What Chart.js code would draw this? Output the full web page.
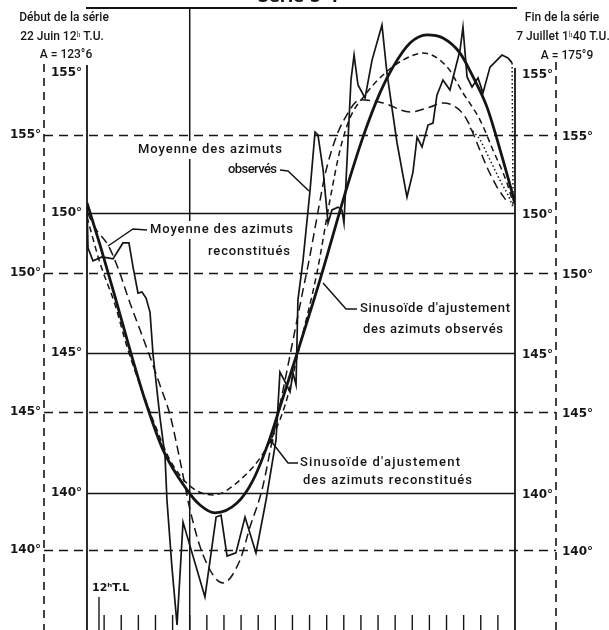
<!DOCTYPE html>
<html><head><meta charset="utf-8">
<script src="https://cdn.jsdelivr.net/npm/chart.js@4/dist/chart.umd.min.js"></script>
<style>html,body{margin:0;padding:0;background:#fff;}canvas{display:block;}</style>
</head><body>
<canvas id="c" width="609" height="630"></canvas>
<script>
// ---- DATA (x = hours, y = azimuth in degrees) ----
// Moyenne des azimuts observés (solid scale)
const obsMeanH = [11.00,11.06,11.35,11.88,12.52,13.10,13.45,13.69,13.98,14.21,14.45,14.68,14.86,15.26,15.56,15.67,15.96,16.26,16.61,17.89,18.54,18.83,19.18,19.70,20.23,20.87,21.46,22.04,22.27,22.51,22.86,23.03,23.21,23.32,23.62,24.03,24.32,24.49,24.79,25.08,25.31,25.66,25.89,26.01,26.19,26.42,26.60,26.83,27.24,27.65,28.23,28.52,29.11,29.69,30.04,30.28,30.57,30.92,31.21,31.44,31.79,32.20,32.79,32.96,33.20,33.49,33.84,34.13,34.54,35.24,35.59,35.83];
const obsMeanV = [150.36,148.75,148.29,148.43,148.36,148.93,148.93,148.07,147.14,147.18,146.96,146.46,144.93,142.71,141.29,139.75,137.36,135.29,138.96,136.29,139.14,139.21,137.75,137.86,139.14,137.86,139.75,141.89,144.32,144.04,143.61,144.29,143.86,146.89,148.32,150.82,152.89,152.79,151.54,149.64,150.11,150.21,150.11,149.64,151.89,154.75,155.64,154.57,154.11,155.46,156.71,155.00,152.50,150.57,151.46,152.71,152.36,153.14,153.21,154.21,154.75,154.39,155.82,156.64,154.86,154.50,154.82,154.29,155.21,155.64,155.54,155.36];
// end of observed series (dotted drop)
const obsEndH = [35.83,35.89];
const obsEndV = [155.36,150.21];
// Sinusoïde d'ajustement des azimuts observés (solid scale)
const obsFitH = [11.00,11.76,12.64,13.51,14.39,15.44,16.84,17.60,18.48,19.76,20.70,21.69,22.27,23.15,24.61,26.19,27.12,28.11,28.87,29.87,30.86,31.79,32.79,33.55,34.36,35.30,36.00];
const obsFitV = [150.36,148.86,147.00,145.11,143.32,141.54,140.11,139.57,139.29,139.64,140.46,141.96,143.07,144.75,147.61,150.93,152.71,154.29,155.21,156.07,156.36,156.25,155.71,154.86,153.79,151.89,150.36];
// Moyenne des azimuts reconstitués (dashed scale)
const recMeanH = [11.00,11.47,12.23,12.81,13.51,14.10,14.68,15.26,15.85,16.43,17.02,17.78,18.94,19.94,20.52,21.22,21.86,22.45,23.15,23.62,24.03,24.49,24.90,25.49,26.07,26.95,28.29,29.87,31.04,31.79,32.61,33.20,33.78,34.36,34.95,35.59];
const recMeanV = [152.22,151.64,151.02,150.19,148.93,147.95,146.98,145.96,144.88,143.25,141.45,139.82,138.81,139.64,140.83,142.17,144.08,145.78,147.95,149.40,150.66,152.22,153.55,154.82,155.61,156.27,156.16,155.83,156.01,156.16,155.98,155.54,154.71,153.84,153.12,152.54];
// Sinusoïde d'ajustement des azimuts reconstitués (dashed scale)
const recFitH = [11.00,11.76,12.64,13.34,14.10,14.97,15.85,17.02,18.36,19.94,21.51,22.57,23.44,24.43,25.19,25.78,26.36,27.24,28.29,29.46,30.63,32.03,32.96,33.96,34.71,35.53,35.89];
const recFitV = [152.04,150.37,148.86,147.34,145.96,144.52,143.25,142.31,141.99,142.53,143.72,145.24,147.41,150.01,152.65,154.46,155.61,156.45,157.17,157.71,157.96,157.46,156.52,155.54,154.46,153.27,152.54];
// end of reconstituted series (dotted)
const recEndH = [33.37,33.96,34.54,35.12,35.59,35.89];
const recEndV = [155.25,154.82,154.10,153.37,152.83,152.40];

// ticks
const solidTicks = [155,150,145,140];
const solidGrid = [150,145,140];
const dashedTicks = [155,150,145,140];
const hourTicks = [12,13,14,15,16,17,18,19,20,21,22,23,24,25,26,27,28,29,30,31,32,33,34,35];
const noonTL = 11.7;
const dayLine = 17;

const pts = (xs, ys) => xs.map((x, i) => ({x, y: ys[i]}));
const INK = '#151515';

function spaced(c, s, x, y, w) {
  c.letterSpacing = '0px';
  const m = c.measureText(s).width;
  const ls = s.length > 1 ? (w - m) / (s.length - 1) : 0;
  c.letterSpacing = ls + 'px';
  c.fillText(s, x, y);
  c.letterSpacing = '0px';
}
function boxText(c, s, x, y, w) {
  c.fillStyle = '#fff';
  c.fillRect(x - 3, y - 9, w + 6, 18);
  c.fillStyle = INK;
  spaced(c, s, x, y, w);
}
function line(c, p, lw, dash) {
  c.beginPath(); c.lineWidth = lw; c.setLineDash(dash || []);
  c.moveTo(p[0][0], p[0][1]);
  for (let i = 1; i < p.length; i++) c.lineTo(p[i][0], p[i][1]);
  c.stroke(); c.setLineDash([]);
}

const deco = {
  id: 'deco',
  beforeDraw(chart) {
    const c = chart.ctx; c.save(); c.fillStyle = '#fff'; c.fillRect(0, 0, chart.width, chart.height); c.restore();
  },
  beforeDatasetsDraw(chart) {
    const c = chart.ctx, a = chart.chartArea, {x, y, y2} = chart.scales;
    c.save(); c.strokeStyle = INK; c.fillStyle = INK;
    const OL = 44, OR = 556;
    dashedTicks.forEach(d => { const py = Math.round(y2.getPixelForValue(d)) + 0.5; line(c, [[OL, py], [OR, py]], 1.6, [9, 6]); });
    solidGrid.forEach(v => { const py = Math.round(y.getPixelForValue(v)) + 0.5; line(c, [[a.left, py], [a.right, py]], 1.6); });
    line(c, [[a.left - 1, a.top], [a.right + 2, a.top]], 1.8);
    line(c, [[a.left, 65], [a.left, a.bottom]], 1.8);
    line(c, [[a.right, 68], [a.right, a.bottom]], 1.8);
    const pd = x.getPixelForValue(dayLine);
    line(c, [[pd, a.top], [pd, a.bottom]], 1.5);
    line(c, [[OL, 64], [OL, a.bottom]], 1.6, [8, 6]);
    line(c, [[OR, 62], [OR, a.bottom]], 1.6, [8, 6]);
    hourTicks.forEach(h => { const px = x.getPixelForValue(h); line(c, [[px, 615], [px, a.bottom]], 1.4); });
    const pn = x.getPixelForValue(noonTL);
    line(c, [[pn, 597], [pn, a.bottom]], 1.4);
    c.font = 'bold 12px "DejaVu Sans"'; c.textBaseline = 'middle';
    solidTicks.forEach(v => {
      const py = y.getPixelForValue(v);
      c.textAlign = 'right'; c.fillText(v + '°', 82, py);
      c.textAlign = 'left'; c.fillText(v + '°', 522, py + 2);
    });
    dashedTicks.forEach(d => {
      const py = y2.getPixelForValue(d);
      c.textAlign = 'right'; c.fillText(d + '°', 41, py);
      c.textAlign = 'left'; c.fillText(d + '°', 562, py + 2);
    });
    c.textAlign = 'left'; c.font = '500 13px Roboto';
    boxText(c, 'Moyenne des azimuts', 138, 150, 144);
    boxText(c, 'observés', 228, 170, 49);
    boxText(c, 'Moyenne des azimuts', 150, 230, 143);
    boxText(c, 'reconstitués', 208, 252, 82);
    boxText(c, "Sinusoïde d'ajustement", 360, 309, 150);
    boxText(c, 'des azimuts observés', 363, 330, 140);
    boxText(c, "Sinusoïde d'ajustement", 300, 463, 160);
    boxText(c, 'des azimuts reconstitués', 303, 481, 169);
    c.restore();
  },
  afterDatasetsDraw(chart) {
    const c = chart.ctx; c.save(); c.strokeStyle = INK; c.fillStyle = INK;
    line(c, [[280, 170], [288, 171], [309, 191]], 1.5);
    line(c, [[147, 230], [133, 229], [108, 246]], 1.5);
    line(c, [[357, 309], [346, 309], [323, 283]], 1.5);
    line(c, [[298, 463], [288, 463], [271, 441]], 1.5);
    c.beginPath(); c.arc(271, 441, 2.5, 0, Math.PI * 2); c.fill();
    c.font = '500 12px Roboto'; c.textBaseline = 'middle'; c.textAlign = 'center';
    c.fillText('Début de la série', 64, 18);
    c.fillText('22 Juin 12ʰ T.U.', 62, 37);
    c.fillText('A = 123°6', 66, 55);
    c.fillText('Fin de la série', 562, 18);
    c.fillText('7 Juillet 1ʰ40 T.U.', 563, 37);
    c.fillText('A = 175°9', 567, 56);
    c.textAlign = 'left'; c.font = 'bold 11px "DejaVu Sans"';
    c.fillText('12ʰT.L', 92, 588);
    c.font = 'bold 16px "DejaVu Sans"'; c.textAlign = 'center'; c.textBaseline = 'bottom';
    c.fillText('Série 5-4', 298, 6);
    c.restore();
  }
};

new Chart(document.getElementById('c'), {
  type: 'line',
  data: {
    datasets: [
      {label: "Sinusoïde d'ajustement des azimuts observés", data: pts(obsFitH, obsFitV), yAxisID: 'y', borderColor: INK, borderWidth: 2.8, cubicInterpolationMode: 'monotone', pointRadius: 0},
      {label: 'Moyenne des azimuts observés', data: pts(obsMeanH, obsMeanV), yAxisID: 'y', borderColor: INK, borderWidth: 1.7, tension: 0, pointRadius: 0},
      {label: 'fin observés', data: pts(obsEndH, obsEndV), yAxisID: 'y', borderColor: INK, borderWidth: 1.5, borderDash: [1.5, 2.5], pointRadius: 0},
      {label: "Sinusoïde d'ajustement des azimuts reconstitués", data: pts(recFitH, recFitV), yAxisID: 'y2', borderColor: INK, borderWidth: 1.5, borderDash: [6, 4], cubicInterpolationMode: 'monotone', pointRadius: 0},
      {label: 'Moyenne des azimuts reconstitués', data: pts(recMeanH, recMeanV), yAxisID: 'y2', borderColor: INK, borderWidth: 1.5, borderDash: [9, 5], cubicInterpolationMode: 'monotone', pointRadius: 0},
      {label: 'fin reconstitués', data: pts(recEndH, recEndV), yAxisID: 'y2', borderColor: INK, borderWidth: 1.5, borderDash: [1.5, 2.5], cubicInterpolationMode: 'monotone', pointRadius: 0}
    ]
  },
  options: {
    responsive: false, animation: false, devicePixelRatio: 1,
    layout: {padding: {left: 87, right: 94, top: 8, bottom: 0}},
    plugins: {legend: {display: false}, tooltip: {enabled: false}},
    scales: {
      x: {type: 'linear', min: 11, max: 36, display: false},
      y: {type: 'linear', min: 135.107, max: 157.321, display: false},
      y2: {type: 'linear', min: 137.108, max: 159.590, display: false}
    }
  },
  plugins: [deco]
});
</script>
</body></html>
